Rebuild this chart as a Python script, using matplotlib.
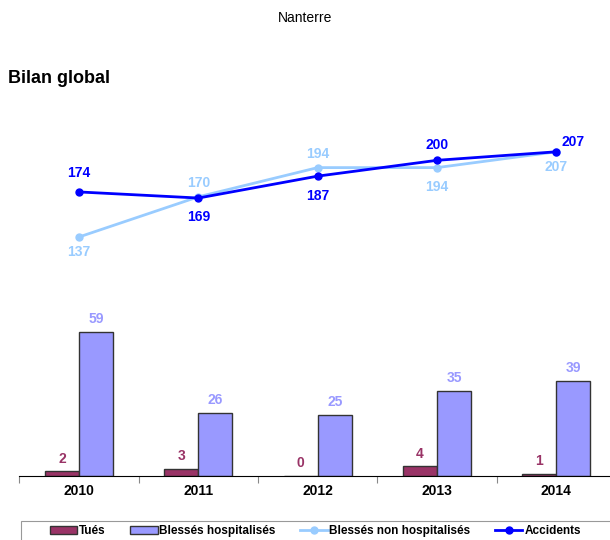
import numpy as np
import matplotlib
matplotlib.use("Agg")
import matplotlib.pyplot as plt
from matplotlib.patches import Patch, Rectangle
from matplotlib.lines import Line2D

plt.rcParams["font.family"] = ["Liberation Sans", "DejaVu Sans"]

years = ["2010", "2011", "2012", "2013", "2014"]
tues = [2, 3, 0, 4, 1]
blesses_hosp = [59, 26, 25, 35, 39]
blesses_non_hosp = [137, 170, 194, 194, 207]
accidents = [174, 169, 187, 200, 207]

C_TUES = "#993366"
C_HOSP = "#9999FF"
C_NONHOSP = "#99CCFF"
C_ACC = "#0000FF"

x = np.arange(len(years))

fig = plt.figure(figsize=(6.1, 5.4), dpi=100)
fig.text(0.5, 0.967, "Nanterre", ha="center", va="center", fontsize=10)
fig.text(0.013, 0.855, "Bilan global", ha="left", va="center",
         fontsize=13, fontweight="bold")

# bars
axb = fig.add_axes([0.0318, 0.1185, 0.978, 0.3163])
w = 0.285
axb.bar(x - w / 2, tues, w, color=C_TUES, edgecolor="#333333", lw=1)
axb.bar(x + w / 2, blesses_hosp, w, color=C_HOSP, edgecolor="#333333", lw=1)
for i in range(len(years)):
    axb.annotate(str(tues[i]), (x[i] - w / 2, tues[i]), xytext=(0, 4),
                 textcoords="offset points", ha="center", va="bottom",
                 color=C_TUES, fontsize=10, fontweight="bold")
    axb.annotate(str(blesses_hosp[i]), (x[i] + w / 2, blesses_hosp[i]), xytext=(0, 4),
                 textcoords="offset points", ha="center", va="bottom",
                 color=C_HOSP, fontsize=10, fontweight="bold")
axb.set_xlim(-0.5, 4.5)
axb.set_ylim(0, 70)
for s in ["top", "right", "left"]:
    axb.spines[s].set_visible(False)
axb.spines["bottom"].set_color("black")
axb.set_yticks([])
axb.set_xticks(np.arange(-0.5, 5, 1.0))
axb.set_xticklabels([])
axb.tick_params(axis="x", length=5, color="#888888", direction="out")
axb.set_xticks(x, minor=True)
axb.set_xticklabels(years, minor=True, fontsize=10, fontweight="bold")
axb.tick_params(axis="x", which="minor", length=0, pad=6)
axb.patch.set_alpha(0)

# lines
axl = fig.add_axes([0.0318, 0.4778, 0.978, 0.2704])
axl.plot(x, blesses_non_hosp, "-o", color=C_NONHOSP, lw=2, ms=5)
axl.plot(x, accidents, "-o", color=C_ACC, lw=2, ms=5)
axl.set_xlim(-0.5, 4.5)
axl.set_ylim(100, 220)
axl.axis("off")

nh_off = [(0, -11), (0, 10), (0, 10), (0, -14), (0, -11)]
acc_off = [(0, 14), (0, -14), (0, -14), (0, 11), (12, 7)]
for i in range(len(years)):
    axl.annotate(str(blesses_non_hosp[i]), (x[i], blesses_non_hosp[i]),
                 xytext=nh_off[i], textcoords="offset points",
                 ha="center", va="center", color=C_NONHOSP,
                 fontsize=10, fontweight="bold")
    axl.annotate(str(accidents[i]), (x[i], accidents[i]),
                 xytext=acc_off[i], textcoords="offset points",
                 ha="center", va="center", color=C_ACC,
                 fontsize=10, fontweight="bold")

# legend frame running off the right and bottom edges
fig.patches.append(Rectangle((21 / 610, -0.02), 1.0, 0.056,
                             transform=fig.transFigure, fill=False,
                             edgecolor="#999999", lw=0.8))
handles = [
    Patch(facecolor=C_TUES, edgecolor="#333333", label="Tués"),
    Patch(facecolor=C_HOSP, edgecolor="#333333", label="Blessés hospitalisés"),
    Line2D([], [], color=C_NONHOSP, lw=2, marker="o", ms=5, label="Blessés non hospitalisés"),
    Line2D([], [], color=C_ACC, lw=2, marker="o", ms=5, label="Accidents"),
]
leg = fig.legend(handles=handles, loc="center left", bbox_to_anchor=(0.082, 0.017),
                 ncol=4, frameon=False,
                 prop={"size": 8.5, "weight": "bold"}, handlelength=2.3,
                 handletextpad=0.15, columnspacing=2.1, borderpad=0,
                 borderaxespad=0)

plt.savefig("out.png", dpi=100)
plt.close()
